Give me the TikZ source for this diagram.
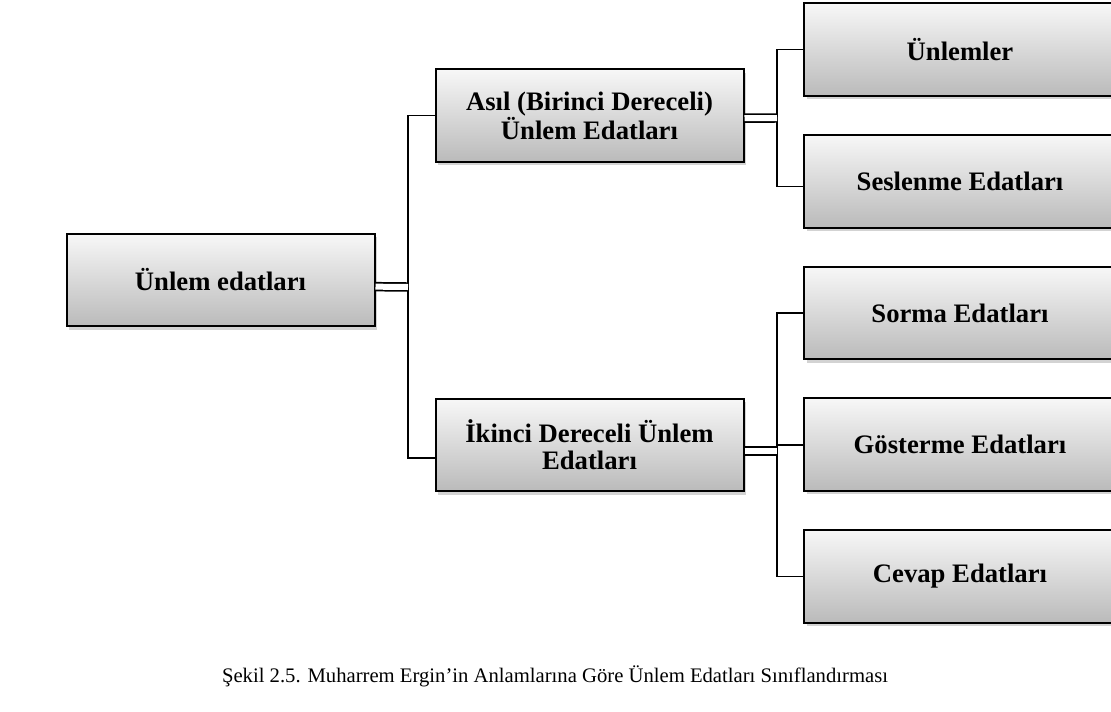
\documentclass[tikz,border=0pt]{standalone}
\usepackage{fontspec}
\setmainfont{Liberation Serif}
\usepackage{tikz}
\usetikzlibrary{shapes,shadows,positioning}
\tikzstyle{kutu}=[rectangle,draw=black,line width=1.5pt,
			  top color=black!3,bottom color=black!27,
			  minimum width=231pt,minimum height=69.5pt,align=center,
			  font=\bfseries\fontsize{20}{20}\selectfont,
			  drop shadow={shadow xshift=2pt,shadow yshift=-2.5pt,opacity=.35}]
\tikzstyle{line}=[black,line width=1.2pt]
\tikzstyle{cift}=[black,line width=1.3pt,double=white,double distance=4.5pt]

\begin{document}
\begin{tikzpicture}[x=0.75pt,y=-0.75pt,node distance=27.8pt]
	\useasboundingbox (0,0) rectangle (1111,711);
	\clip (0,0) rectangle (1111,711);

	\node[kutu] (kok) at (220.5,280) {Ünlem edatları};
	\node[kutu] (asil) at (589.5,115.5) {Asıl (Birinci Dereceli)\\Ünlem Edatları};
	\node[kutu] (ikinci) at (589.5,445) {İkinci Dereceli Ünlem\\Edatları};

	\node[kutu,minimum width=234pt] (unlemler) at (960,49.5) {Ünlemler};
	\node[kutu,minimum width=234pt] (seslenme) [below=of unlemler] {Seslenme Edatları};
	\node[kutu,minimum width=234pt] (sorma) [below=of seslenme] {Sorma Edatları};
	\node[kutu,minimum width=234pt] (gosterme) [below=of sorma] {Gösterme Edatları};
	\node[kutu,minimum width=234pt] (cevap) [below=of gosterme] {Cevap Edatları};

	\coordinate (bus0) at (408,287);
	\coordinate (bus1) at (777,118);
	\coordinate (bus2) at (777,451);

	% baglantilar
	\draw[line] (asil.west) -| (bus0) |- ([yshift=-9.75pt]ikinci.west);
	\draw[cift] ([yshift=-5pt]kok.east) -- (bus0);
	\draw[line] (unlemler.west) -| (bus1) |- ([yshift=-4pt]seslenme.west);
	\draw[cift] ([yshift=-2pt]asil.east) -- (bus1);
	\draw[line] (sorma.west) -| (bus2) |- (cevap.west);
	\draw[line] (bus2 |- gosterme.west) -- (gosterme.west);
	\draw[cift] ([yshift=-4.5pt]ikinci.east) -- (bus2);

	\node (baslik) at (555,676) {\fontsize{15.5}{18}\selectfont Şekil 2.5. Muharrem Ergin’in Anlamlarına Göre Ünlem Edatları Sınıflandırması};
\end{tikzpicture}
\end{document}
